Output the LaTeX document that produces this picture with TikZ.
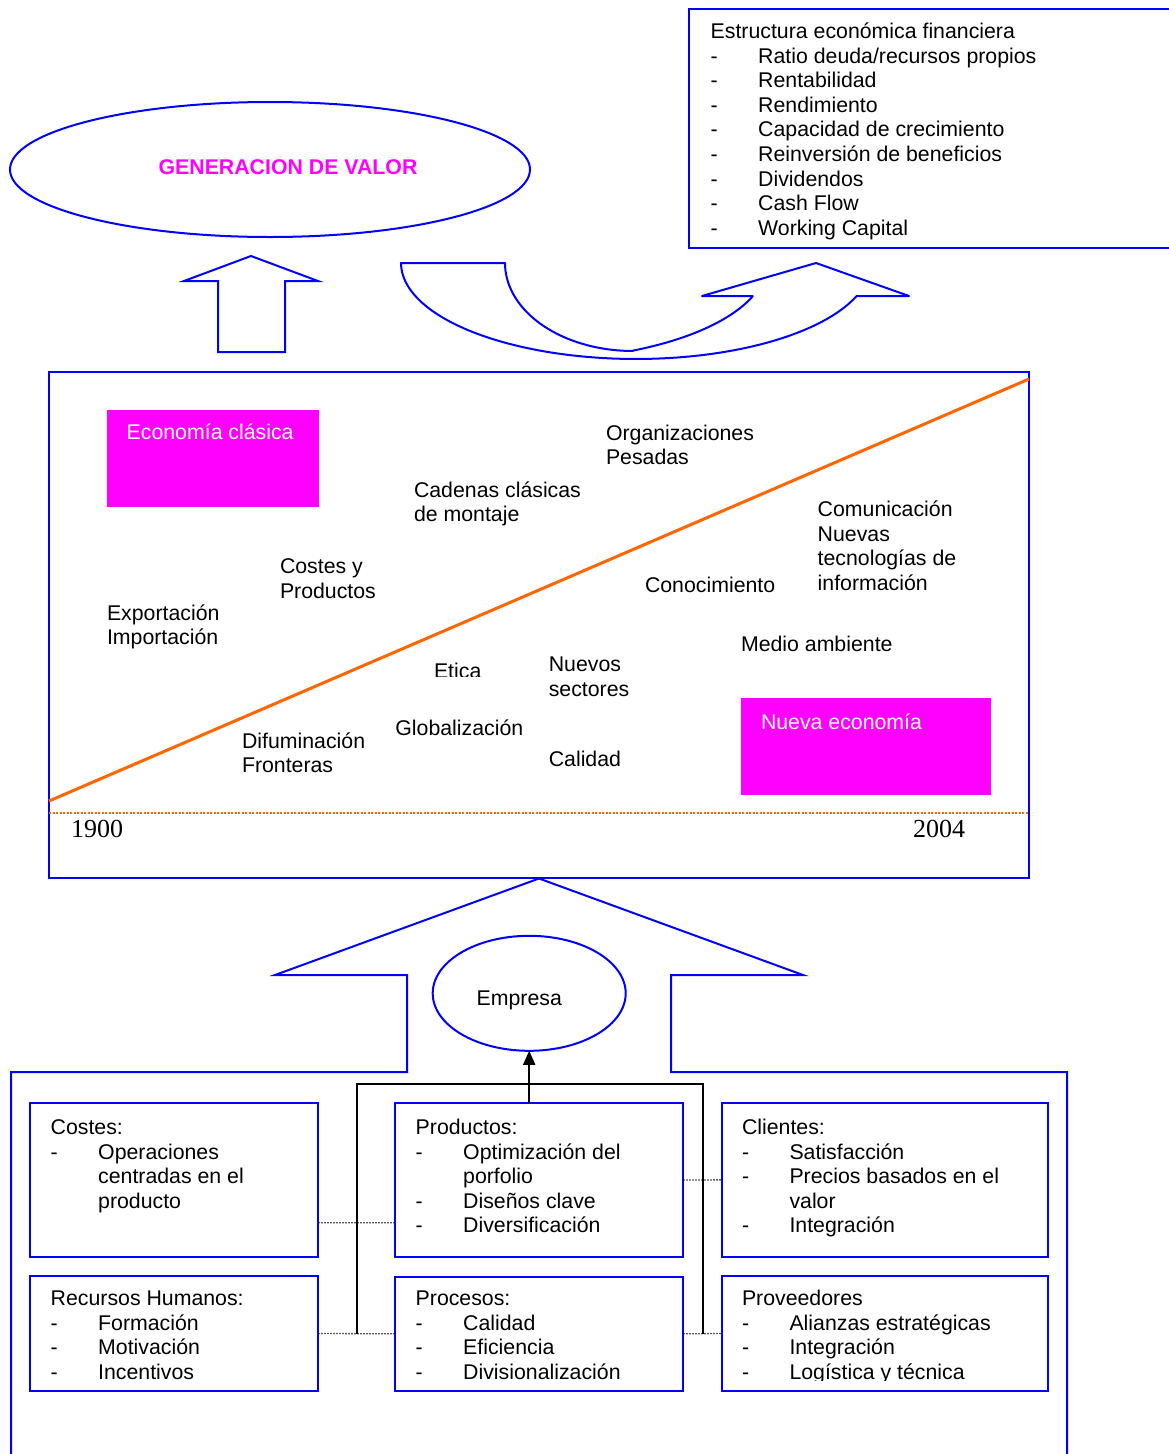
\documentclass[tikz,border=0pt]{standalone}
\usepackage{fontspec}
\setmainfont{Liberation Sans}
\newfontfamily\yearfont{Liberation Serif}
\usetikzlibrary{shapes.geometric,arrows.meta,calc}

\definecolor{frameblue}{RGB}{0,0,255}
\definecolor{hotpink}{RGB}{255,0,255}
\definecolor{trendorange}{RGB}{255,102,0}

% list helpers: a dash followed by a tab stop, and a bare tab stop
\newcommand\dsh{\makebox[47.5pt][l]{-}}
\newcommand\tabin{\hspace*{47.5pt}}

\begin{document}
\begin{tikzpicture}[x=1pt,y=-1pt,
  blueline/.style={draw=frameblue,line width=2pt},
  box/.style={blueline,rectangle,inner sep=0pt,outer sep=0pt,anchor=north west},
  txt/.style={anchor=north west,inner sep=0pt,outer sep=0pt,align=left,
              yshift=17.22pt,font=\fontsize{21.3}{24.6}\selectfont},
  wtxt/.style={txt,text=white},
  oval/.style={blueline,ellipse,inner sep=0pt,outer sep=0pt},
  bus/.style={draw=black,line width=2pt},
  dots/.style={draw=black,line width=1.3pt,dash pattern=on 1.3pt off 1.7pt},
  year/.style={anchor=base west,inner sep=0pt,font=\yearfont\fontsize{26}{29}\selectfont}
]
\path[fill=white,use as bounding box] (0,0) rectangle (1168,1454);

% ---------- top: value generation and financial structure ----------
\node[oval,minimum width=520pt,minimum height=135pt] (valor) at (270,169.5) {};
\node[inner sep=0pt,font=\fontsize{21.3}{24.6}\selectfont\bfseries,text=hotpink] (valor-t) at (288,167) {GENERACION DE VALOR};

\node[box,minimum width=490pt,minimum height=239pt] (estr) at (689,8.5) {};
\node[txt] (estr-t) at (710.7,38.5) {\strut Estructura económica financiera\\
  \dsh Ratio deuda/recursos propios\\
  \dsh Rentabilidad\\
  \dsh Rendimiento\\
  \dsh Capacidad de crecimiento\\
  \dsh Reinversión de beneficios\\
  \dsh Dividendos\\
  \dsh Cash Flow\\
  \dsh Working Capital};

% straight block arrow up
\draw[blueline] (218,352) -- (218,281) -- (184,281) -- (251,256) -- (318,281)
  -- (285,281) -- (285,352) -- cycle;

% curved block arrow
\draw[blueline,line join=round]
  (401,263) -- (505,263)
  -- plot[domain=0:1,samples=40,variable=\t] ({633+128*cos(180-90*\t)},{263+88*sin(180-90*\t)})
  -- plot[domain=0:1,samples=30,variable=\t] ({532+235*cos(64.5-44.5*\t)},{263+97*sin(64.5-44.5*\t)})
  -- (702,296) -- (816,263) -- (909,296) -- (857,296)
  -- plot[domain=0:1,samples=60,variable=\t] ({636+235*cos(20+160*\t)},{263+96*sin(20+160*\t)})
  -- cycle;

% ---------- middle: 1900 - 2004 evolution ----------
\node[box,minimum width=980pt,minimum height=506pt] (frame) at (49,372) {};
\draw[trendorange,line width=3pt] (49,801) -- (1029,379);
\draw[trendorange,line width=2pt,dash pattern=on 2pt off 1.5pt] (49,813.3) -- (1029,813.3);

\fill[hotpink] (107,410) rectangle (319,507);
\fill[hotpink] (741,698) rectangle (991,795);
\node[wtxt] (clasica) at (126.7,439) {\strut Economía clásica};
\node[wtxt] (nueva) at (761,729) {\strut Nueva economía};

\node[txt] (org) at (606,440) {\strut Organizaciones\\Pesadas};
\node[txt] (cadenas) at (414,497) {\strut Cadenas clásicas\\de montaje};
\node[txt] (comun) at (817.7,516.5) {\strut Comunicación\\Nuevas\\tecnologías de\\información};
\node[txt] (costprod) at (280,573.5) {\strut Costes y\\Productos};
\node[txt] (conoc) at (645,592) {\strut Conocimiento};
\node[txt] (export) at (107,620) {\strut Exportación\\Importación};
\node[txt] (medio) at (741,651.5) {\strut Medio ambiente};
\begin{scope}
  \clip (425,600) rectangle (520,676);
  \node[txt] (etica) at (434,678.5) {\strut Etica};
\end{scope}
\node[txt] (nuevos) at (548.8,671.5) {\strut Nuevos\\sectores};
\node[txt] (global) at (395.4,735) {\strut Globalización};
\node[txt] (difum) at (242,748) {\strut Difuminación\\Fronteras};
\node[txt] (calidad) at (548.8,766.5) {\strut Calidad};

\node[year] (y1900) at (71,837) {1900};
\node[year] (y2004) at (913,837) {2004};

% ---------- bottom: the company ----------
\draw[blueline] (11,1470) -- (11,1072) -- (407,1072) -- (407,975) -- (275,975)
  -- (539,878.5) -- (803,975) -- (671,975) -- (671,1072) -- (1067,1072) -- (1067,1470);

\node[oval,minimum width=193pt,minimum height=115pt] (empresa) at (529.2,993.3) {};
\node[txt] (empresa-t) at (476.7,1005) {\strut Empresa};

\node[box,minimum width=288.3pt,minimum height=153.7pt] (costes) at (30,1103) {};
\node[box,minimum width=288.3pt,minimum height=153.4pt] (productos) at (395,1103.3) {};
\node[box,minimum width=326.6pt,minimum height=153.7pt] (clientes) at (721.7,1103) {};
\node[box,minimum width=288.3pt,minimum height=115pt] (rrhh) at (30,1276) {};
\node[box,minimum width=288.3pt,minimum height=114.5pt] (procesos) at (395,1276.5) {};
\node[box,minimum width=326.6pt,minimum height=115pt] (proveedores) at (721.7,1276) {};

\node[txt] (costes-t) at (50.7,1134.5) {\strut Costes:\\
  \dsh Operaciones\\ \tabin centradas en el\\ \tabin producto};
\node[txt] (productos-t) at (415.7,1134.5) {\strut Productos:\\
  \dsh Optimización del\\ \tabin porfolio\\
  \dsh Diseños clave\\
  \dsh Diversificación};
\node[txt] (clientes-t) at (742,1134.5) {\strut Clientes:\\
  \dsh Satisfacción\\
  \dsh Precios basados en el\\ \tabin valor\\
  \dsh Integración};
\node[txt] (rrhh-t) at (50.7,1305.5) {\strut Recursos Humanos:\\
  \dsh Formación\\
  \dsh Motivación\\
  \dsh Incentivos};
\node[txt] (procesos-t) at (415.7,1305.5) {\strut Procesos:\\
  \dsh Calidad\\
  \dsh Eficiencia\\
  \dsh Divisionalización};
\begin{scope}
  \clip (721,1280) rectangle (1048,1380);
  \node[txt] (proveedores-t) at (742,1305.5) {\strut Proveedores\\
    \dsh Alianzas estratégicas\\
    \dsh Integración\\
    \dsh Logística y técnica};
\end{scope}

% links between the areas
\draw[dots] ([yshift=34pt]costes.south east) -- ([yshift=34pt]productos.south west);
\draw[dots] (productos.east) -- (clientes.west);
\draw[dots] (rrhh.east) -- (procesos.west);
\draw[dots] (procesos.east) -- (proveedores.west);

\coordinate (busL) at ($(rrhh.east)!.5!(procesos.west)$);
\coordinate (busR) at ($(procesos.east)!.5!(proveedores.west)$);
\coordinate (busM) at ([yshift=19pt]empresa.south |- productos.north);
\draw[bus] (busL) |- (busM) -| (busR);
\draw[bus,-{Triangle[length=14pt,width=12pt]}] (empresa.south |- productos.north) -- (empresa.south);
\end{tikzpicture}
\end{document}
